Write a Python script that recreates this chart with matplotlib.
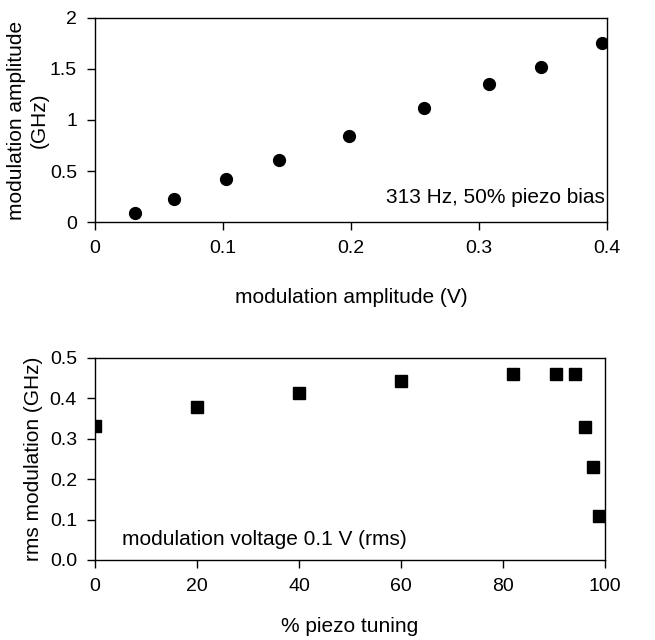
import numpy as np
import matplotlib
matplotlib.use("Agg")
import matplotlib.pyplot as plt

plt.rcParams['font.family'] = ['Liberation Sans', 'DejaVu Sans']
plt.rcParams['font.size'] = 15

# top panel: modulation amplitude (V) vs modulation amplitude (GHz)
amp_volt = [0.031, 0.062, 0.102, 0.144, 0.198, 0.257, 0.308, 0.348, 0.396]
amp_ghz = [0.09, 0.23, 0.42, 0.61, 0.84, 1.12, 1.35, 1.52, 1.75]

# bottom panel: % piezo tuning vs rms modulation (GHz)
piezo_pct = [0, 20, 40, 60, 82, 90.3, 94, 96.1, 97.7, 98.7]
rms_ghz = [0.331, 0.379, 0.412, 0.443, 0.459, 0.459, 0.459, 0.329, 0.231, 0.110]

fig = plt.figure(figsize=(6.55, 6.4), dpi=100)

# ---- top plot
ax0 = fig.add_axes([0.145, 0.653, 0.782, 0.319])
ax0.plot(amp_volt, amp_ghz, 'o', color='black', markersize=8.5)
ax0.set_xlim(0, 0.4)
ax0.set_ylim(0, 2)
ax0.set_xticks([0, 0.1, 0.2, 0.3, 0.4])
ax0.set_xticklabels(['0', '0.1', '0.2', '0.3', '0.4'])
ax0.set_yticks([0, 0.5, 1, 1.5, 2])
ax0.set_yticklabels(['0', '0.5', '1', '1.5', '2'])
ax0.set_xlabel('modulation amplitude (V)', labelpad=22)
ax0.set_ylabel('modulation amplitude\n(GHz)', linespacing=1.2, labelpad=1)
ax0.text(0.995, 0.12, '313 Hz, 50% piezo bias', transform=ax0.transAxes,
         ha='right', va='center')

# ---- bottom plot
ax1 = fig.add_axes([0.145, 0.125, 0.779, 0.316])
ax1.plot(piezo_pct, rms_ghz, 's', color='black', markersize=8.5)
ax1.set_xlim(0, 100)
ax1.set_ylim(0, 0.5)
ax1.set_xticks([0, 20, 40, 60, 80, 100])
ax1.set_yticks([0.0, 0.1, 0.2, 0.3, 0.4, 0.5])
ax1.set_yticklabels(['0.0', '0.1', '0.2', '0.3', '0.4', '0.5'])
ax1.set_xlabel('% piezo tuning', labelpad=16)
ax1.set_ylabel('rms modulation (GHz)', labelpad=5)
ax1.text(0.053, 0.10, 'modulation voltage 0.1 V (rms)', transform=ax1.transAxes,
         ha='left', va='center')

for ax in (ax0, ax1):
    for s in ax.spines.values():
        s.set_linewidth(1.0)
        s.set_color('black')
    ax.tick_params(direction='out', length=6, width=1.0, pad=7, labelsize=14)

plt.savefig('out.png', dpi=100)
